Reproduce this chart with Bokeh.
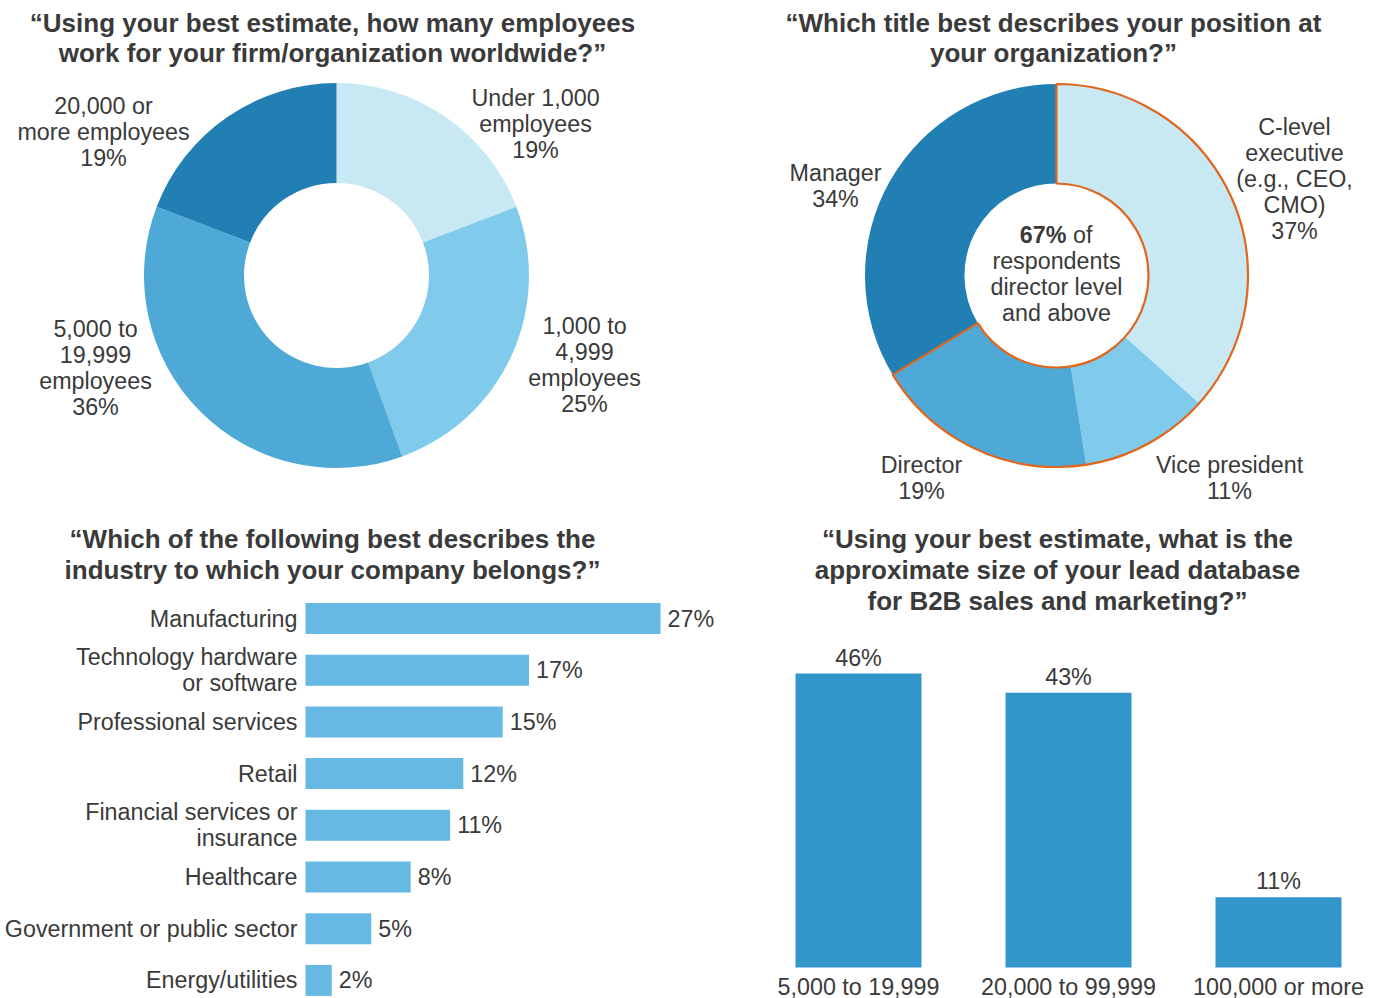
import numpy as np
from bokeh.plotting import figure
from bokeh.models import Range1d
from bokeh.layouts import column, row
from bokeh.embed import file_html
from bokeh.resources import INLINE
from bokeh.core.properties import value

# ---------------- data ----------------
emp_labels = ["Under 1,000\nemployees", "1,000 to\n4,999\nemployees",
              "5,000 to\n19,999\nemployees", "20,000 or\nmore employees"]
emp_values = [19, 25, 36, 19]

pos_labels = ["C-level\nexecutive\n(e.g., CEO,\nCMO)", "Vice president", "Director", "Manager"]
pos_values = [37, 11, 19, 34]

industry_labels = ["Manufacturing", "Technology hardware\nor software", "Professional services",
                   "Retail", "Financial services or\ninsurance", "Healthcare",
                   "Government or public sector", "Energy/utilities"]
industry_values = [27, 17, 15, 12, 11, 8, 5, 2]

db_labels = ["5,000 to 19,999", "20,000 to 99,999", "100,000 or more"]
db_values = [46, 43, 11]

titles = {
    "emp": ["\u201cUsing your best estimate, how many employees",
            "work for your firm/organization worldwide?\u201d"],
    "pos": ["\u201cWhich title best describes your position at",
            "your organization?\u201d"],
    "ind": ["\u201cWhich of the following best describes the",
            "industry to which your company belongs?\u201d"],
    "db": ["\u201cUsing your best estimate, what is the",
           "approximate size of your lead database",
           "for B2B sales and marketing?\u201d"],
}

# ---------------- styles ----------------
FONT = "Liberation Sans"
TXT = "#3a3a3a"
DONUT_COLORS = ["#c8e8f4", "#80cbeb", "#4fa9d6", "#217fb4"]
BAR_L = "#66b9e2"
BAR_R = "#3396cb"
ORANGE = "#e0661c"
FS = 23.3
TFS = 26
LH = 26


def make_fig(w, h):
    p = figure(width=w, height=h, x_range=Range1d(0, w), y_range=Range1d(0, h),
               output_backend="svg", toolbar_location=None, min_border=0,
               background_fill_color="white", border_fill_color="white")
    p.axis.visible = False
    p.grid.visible = False
    p.outline_line_color = None
    return p


def put_lines(p, H, x, y_top, text, size=FS, bold=False, align="center", lh=LH):
    lines = text.split("\n")
    xs = [x] * len(lines)
    ys = [H - (y_top + k * lh) for k in range(len(lines))]
    p.text(x=xs, y=ys, text=lines, text_align=align, text_baseline="middle",
           text_font=value(FONT), text_font_size=f"{size}px",
           text_font_style="bold" if bold else "normal", text_color=TXT)


def donut(p, H, cx, cy_top, r_in, r_out, vals, colors):
    v = np.array(vals, dtype=float)
    frac = v / v.sum()
    c1 = np.cumsum(frac)
    c0 = c1 - frac
    start = np.pi / 2 - 2 * np.pi * c1
    end = np.pi / 2 - 2 * np.pi * c0
    p.annular_wedge(x=cx, y=H - cy_top, inner_radius=r_in, outer_radius=r_out,
                    start_angle=start, end_angle=end, fill_color=colors,
                    line_color=None)
    return c0, c1


# ---------------- panel 1: employees donut ----------------
W1, H1 = 700, 505
p1 = make_fig(W1, H1)
for k, t in enumerate(titles["emp"]):
    put_lines(p1, H1, 332, 22 + k * 30, t, size=TFS, bold=True)
donut(p1, H1, 336, 275, 92.5, 192.5, emp_values, DONUT_COLORS)
emp_pos = [(535, 97), (584, 325), (95, 328), (103, 105)]
for (x, y), lab, v in zip(emp_pos, emp_labels, emp_values):
    put_lines(p1, H1, x, y, f"{lab}\n{v}%")

# ---------------- panel 2: position donut ----------------
W2, H2 = 679, 505
p2 = make_fig(W2, H2)
for k, t in enumerate(titles["pos"]):
    put_lines(p2, H2, 353, 22 + k * 30, t, size=TFS, bold=True)
CX2, CY2 = 356, 275
c0, c1 = donut(p2, H2, CX2, CY2, 92, 191.5, pos_values, DONUT_COLORS)
# outline of the director-level-and-above share (first three slices)
p2.annular_wedge(x=CX2, y=H2 - CY2, inner_radius=92, outer_radius=191.5,
                 start_angle=np.pi / 2 - 2 * np.pi * c1[2], end_angle=np.pi / 2,
                 fill_color=None, line_color=ORANGE, line_width=2.2)
pos_pos = [(594, 126), (529, 464), (221, 464), (135, 172)]
for (x, y), lab, v in zip(pos_pos, pos_labels, pos_values):
    put_lines(p2, H2, x, y, f"{lab}\n{v}%")
share = sum(pos_values[:3])
p2.text(x=[CX2 + 10], y=[H2 - 234], text=[f"{share}%"], text_align="right",
        text_baseline="middle", text_font=value(FONT), text_font_size=f"{FS}px",
        text_font_style="bold", text_color=TXT)
p2.text(x=[CX2 + 16.5], y=[H2 - 234], text=["of"], text_align="left",
        text_baseline="middle", text_font=value(FONT), text_font_size=f"{FS}px",
        text_color=TXT)
put_lines(p2, H2, CX2, 260, "respondents\ndirector level\nand above")

# ---------------- panel 3: industry bars ----------------
W3, H3 = 730, 493
p3 = make_fig(W3, H3)
for k, t in enumerate(titles["ind"]):
    put_lines(p3, H3, 332, 33 + k * 31, t, size=TFS, bold=True)
BX0, PXP = 305, 13.15
ROW0, ROWH = 113, 51.7
p3.extra_x_ranges = {"pct": Range1d(-BX0 / PXP, (W3 - BX0) / PXP)}
p3.extra_y_ranges = {"row": Range1d((H3 - ROW0) / ROWH, -ROW0 / ROWH)}
idx = np.arange(len(industry_values))
p3.hbar(y=idx, left=0, right=industry_values, height=31 / ROWH, fill_color=BAR_L,
        line_color=None, x_range_name="pct", y_range_name="row")
p3.text(x=industry_values, y=idx, text=[f"{v}%" for v in industry_values],
        x_offset=7, text_align="left", text_baseline="middle",
        text_font=value(FONT), text_font_size=f"{FS}px", text_color=TXT,
        x_range_name="pct", y_range_name="row")
lx, ly, lt = [], [], []
for i, lab in enumerate(industry_labels):
    parts = lab.split("\n")
    n = len(parts)
    for k, part in enumerate(parts):
        lx.append(0)
        ly.append(i + (k - (n - 1) / 2) * (LH / ROWH))
        lt.append(part)
p3.text(x=lx, y=ly, text=lt, x_offset=-8, text_align="right", text_baseline="middle",
        text_font=value(FONT), text_font_size=f"{FS}px", text_color=TXT,
        x_range_name="pct", y_range_name="row")

# ---------------- panel 4: database size bars ----------------
W4, H4 = 649, 493
OFF4 = 730 - 700
p4 = make_fig(W4, H4)
for k, t in enumerate(titles["db"]):
    put_lines(p4, H4, 357 - OFF4, 33 + k * 31, t, size=TFS, bold=True)
CX0, CSP = 158 - OFF4, 210
BASE, PXV = 31, 6.39
p4.extra_x_ranges = {"cat": Range1d(-CX0 / CSP, (W4 - CX0) / CSP)}
p4.extra_y_ranges = {"val": Range1d(-BASE / PXV, (H4 - BASE) / PXV)}
cidx = np.arange(len(db_values))
p4.vbar(x=cidx, bottom=0, top=db_values, width=126 / CSP, fill_color=BAR_R,
        line_color=None, x_range_name="cat", y_range_name="val")
p4.text(x=cidx, y=db_values, text=[f"{v}%" for v in db_values], y_offset=-3,
        text_align="center", text_baseline="bottom",
        text_font=value(FONT), text_font_size=f"{FS}px", text_color=TXT,
        x_range_name="cat", y_range_name="val")
p4.text(x=cidx, y=[H4 - 481] * len(cidx), text=db_labels,
        text_align="center", text_baseline="middle",
        text_font=value(FONT), text_font_size=f"{FS}px", text_color=TXT,
        x_range_name="cat")

layout = column(row(p1, p2), row(p3, p4))
open("out.html", "w").write(file_html(layout, INLINE))
